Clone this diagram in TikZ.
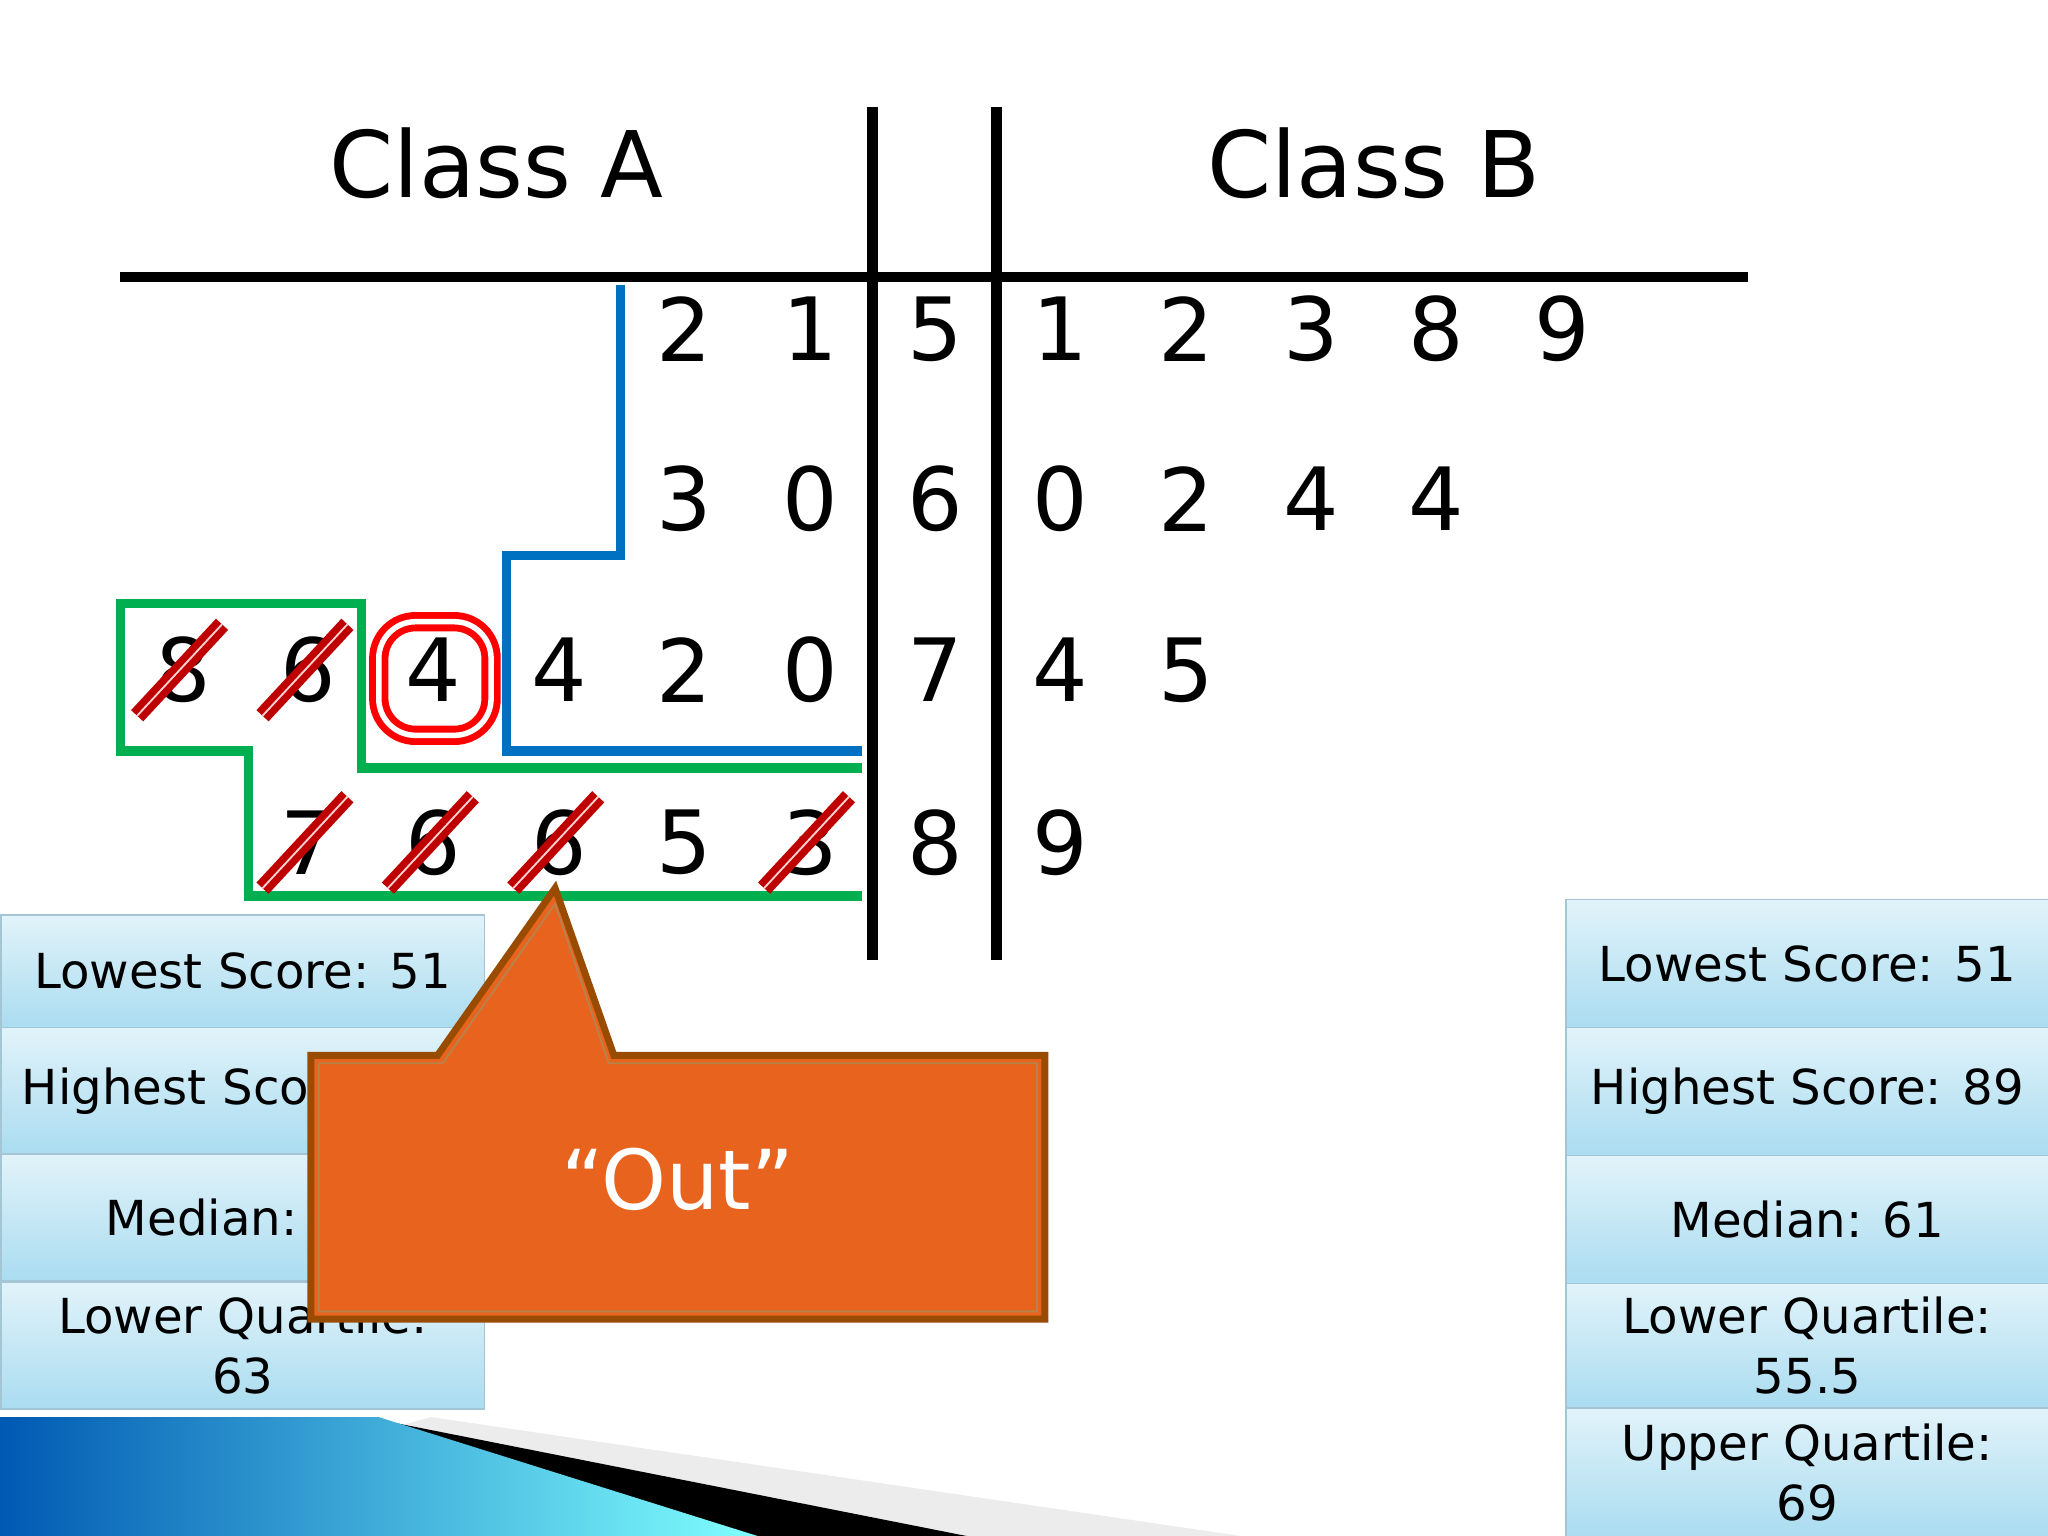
\documentclass[tikz,border=0pt]{standalone}
\usepackage{fontspec}
\setmainfont{DejaVu Sans}
\definecolor{lineblue}{RGB}{0,112,192}
\definecolor{linegreen}{RGB}{0,176,80}
\definecolor{calloutor}{RGB}{232,100,30}
\definecolor{boxtop}{RGB}{225,243,250}
\definecolor{boxbot}{RGB}{170,220,240}
\begin{document}
\begin{tikzpicture}[x=0.01cm,y=-0.01cm,
  dig/.style={font=\fontsize{19}{20}\selectfont},
  hdr/.style={font=\fontsize{20}{24}\selectfont},
  stat/.style={draw=cyan!40!gray!60,top color=boxtop,bottom color=boxbot,font=\fontsize{10.5}{13}\selectfont,align=center,inner sep=0pt,anchor=north west,minimum width=3.7cm},
  strike/.style={red!75!black,line width=1.6pt,double=pink!70,double distance=0.4pt}]
\useasboundingbox (0,0) rectangle (1568,1176);
\fill[white] (0,0) rectangle (1568,1176);
% bottom decoration
\fill[gray!15] (330,1085) -- (950,1176) -- (0,1176) -- cycle;
\fill[black] (280,1085) -- (740,1176) -- (560,1176) -- cycle;
\shade[left color=blue!50!cyan!70!black, right color=cyan!50] (0,1085) -- (290,1085) -- (580,1176) -- (0,1176) -- cycle;
% stat boxes left
\node[stat,minimum height=0.86cm] (l1) at (0,700) {Lowest Score: 51};
\node[stat,minimum height=0.97cm,text width=3.38cm,align=left] (l2) at (0,786) {Highest Score: 89};
\node[stat,minimum height=0.97cm] (l3) at (0,883) {Median: 71};
\node[stat,minimum height=0.97cm] (l4) at (0,981) {Lower Quartile:\\63};
% stat boxes right
\node[stat,minimum height=0.98cm] (r1) at (1198,688) {Lowest Score: 51};
\node[stat,minimum height=0.98cm] (r2) at (1198,786) {Highest Score: 89};
\node[stat,minimum height=0.98cm] (r3) at (1198,884) {Median: 61};
\node[stat,minimum height=0.95cm] (r4) at (1198,982) {Lower Quartile:\\55.5};
\node[stat,minimum height=0.99cm] (r5) at (1198,1077) {Upper Quartile:\\69};
% table lines
\draw[line width=2.3pt] (92,212) -- (1338,212);
\draw[line width=2.3pt] (668,82) -- (668,735);
\draw[line width=2.3pt] (763,82) -- (763,735);
\node[hdr] (ca) at (380,125) {Class A};
\node[hdr] (cb) at (1052,125) {Class B};
% digits
\foreach \y/\list in {252/{5,1,2,3,8,9},382/{6,0,2,4,4},513/{7,4,5},645/{8,9}}{
  \foreach \d [count=\i] in \list {\node[dig] at ({716+96*(\i-1)},\y) {\d};}}
\foreach \y/\list in {252/{1,2},382/{0,3},513/{0,2,4,4,6,8},645/{3,5,6,6,7}}{
  \foreach \d [count=\i] in \list {\node[dig] at ({620-96*(\i-1)},\y) {\d};}}
% blue and green outlines
\draw[line width=2pt,lineblue] (475,218) -- (475,425) -- (388,425) -- (388,575) -- (660,575);
\draw[line width=2pt,linegreen] (660,588) -- (277,588) -- (277,462) -- (92,462) -- (92,575) -- (190,575) -- (190,686) -- (660,686);
\draw[red,line width=1.5pt,double=white,double distance=1.2pt,rounded corners=8] (290,476) rectangle (376,563);
% strikes
\foreach \x/\y in {140/513,236/513,236/645,332/645,428/645,620/645}
  \draw[strike] (\x-35,\y+35) -- (\x+30,\y-35);
% callout
\draw[orange!60!black,line width=1.5pt,fill=calloutor] (238,808) -- (335,808) -- (425,680) -- (470,808) -- (800,808) -- (800,1010) -- (238,1010) -- cycle;
\draw[orange!60!black!70,line width=0.4pt] (244,814) -- (339,814) -- (425,692) -- (466,814) -- (794,814) -- (794,1004) -- (244,1004) -- cycle;
\node[white,font=\fontsize{18}{20}\selectfont] (out) at (519,903) {“Out”};
\end{tikzpicture}
\end{document}
